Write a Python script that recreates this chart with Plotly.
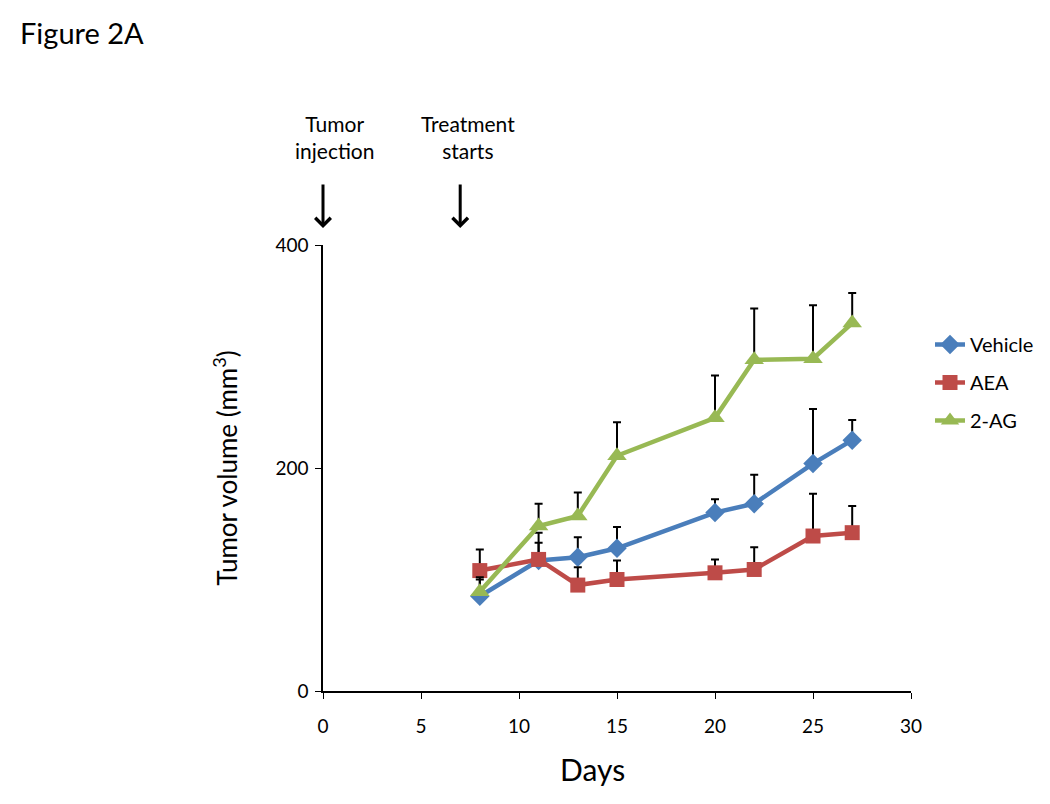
import plotly.graph_objects as go

days = [8, 11, 13, 15, 20, 22, 25, 27]
vehicle = [85, 117, 120, 128, 160, 168, 204, 225]
vehicle_err = [15, 25, 18, 19, 12, 26, 49, 18]
aea = [108, 118, 95, 100, 106, 109, 139, 142]
aea_err = [19, 15, 16, 17, 12, 20, 38, 24]
ag2 = [89, 148, 157, 211, 245, 297, 298, 330]
ag2_err = [13, 20, 21, 30, 38, 46, 48, 27]

series_names = ["Vehicle", "AEA", "2-AG"]
colors = ["#4A7EBB", "#BE4B48", "#98B954"]
symbols = ["diamond", "square", "triangle-up"]
x_ticks = [0, 5, 10, 15, 20, 25, 30]
y_ticks = [0, 200, 400]

FONT = "Lato"
# page body has an 8px margin; figure origin is at (8, 8)
L, T, R, B = 315, 237, 147, 121
PW = 1050 - L - R
PH = 804 - T - B


def py(pix_y):
    """page pixel y -> paper y"""
    return (804 - B + 8 - pix_y) / PH


def px(pix_x):
    """page pixel x -> paper x"""
    return (pix_x - 8 - L) / PW


fig = go.Figure()
for name, vals, errs, col, sym in zip(series_names, [vehicle, aea, ag2],
                                      [vehicle_err, aea_err, ag2_err], colors, symbols):
    fig.add_trace(go.Scatter(
        x=days, y=vals, name=name, mode="lines+markers", legendgroup=name,
        line=dict(color=col, width=4.5),
        marker=dict(symbol=sym, size=15 if sym != "triangle-up" else 17, color=col),
        error_y=dict(type="data", symmetric=False, array=errs,
                     arrayminus=[0] * len(errs), color="black", thickness=2, width=4),
        cliponaxis=False,
    ))

fig.update_layout(
    width=1050, height=804,
    margin=dict(l=L, r=R, t=T, b=B),
    paper_bgcolor="white", plot_bgcolor="white",
    font=dict(family=FONT, color="black", size=19),
    showlegend=True,
    legend=dict(x=px(930), y=py(325), xanchor="left", yanchor="top",
                font=dict(size=20, family=FONT), tracegroupgap=9,
                traceorder="grouped", bgcolor="rgba(0,0,0,0)"),
    xaxis=dict(range=[0, 30], tickvals=x_ticks, showline=True, linecolor="black",
               linewidth=1.5, ticks="outside", ticklen=6, tickcolor="black",
               showgrid=False, zeroline=False, tickfont=dict(size=19),
               ticklabelstandoff=11),
    yaxis=dict(range=[0, 400], tickvals=y_ticks, showline=True, linecolor="black",
               linewidth=1.5, ticks="outside", ticklen=6, tickcolor="black",
               showgrid=False, zeroline=False, tickfont=dict(size=19),
               ticklabelstandoff=3,
               title=dict(text="Tumor volume (mm<sup>3</sup>)", font=dict(size=26), standoff=30)),
    annotations=[
        dict(text="Figure 2A", xref="paper", yref="paper", x=px(18),
             y=py(32), xanchor="left", yanchor="middle", showarrow=False,
             font=dict(size=29, family=FONT)),
        dict(text="Days", xref="paper", yref="paper", x=px(592),
             y=py(769), xanchor="center", yanchor="middle", showarrow=False,
             font=dict(size=30, family=FONT)),
        dict(text="Tumor<br>injection", xref="x", yref="paper", x=0.6,
             y=py(137), xanchor="center", yanchor="middle", showarrow=False,
             font=dict(size=21, family=FONT)),
        dict(text="Treatment<br>starts", xref="x", yref="paper", x=7.4,
             y=py(137), xanchor="center", yanchor="middle", showarrow=False,
             font=dict(size=21, family=FONT)),
        dict(text="", xref="x", yref="paper", x=0, y=py(228),
             showarrow=True, ax=0, ay=-45, arrowhead=4, arrowsize=1, arrowwidth=3,
             arrowcolor="black"),
        dict(text="", xref="x", yref="paper", x=7.0, y=py(228),
             showarrow=True, ax=0, ay=-45, arrowhead=4, arrowsize=1, arrowwidth=3,
             arrowcolor="black"),
    ],
)

fig.write_html("out.html")
